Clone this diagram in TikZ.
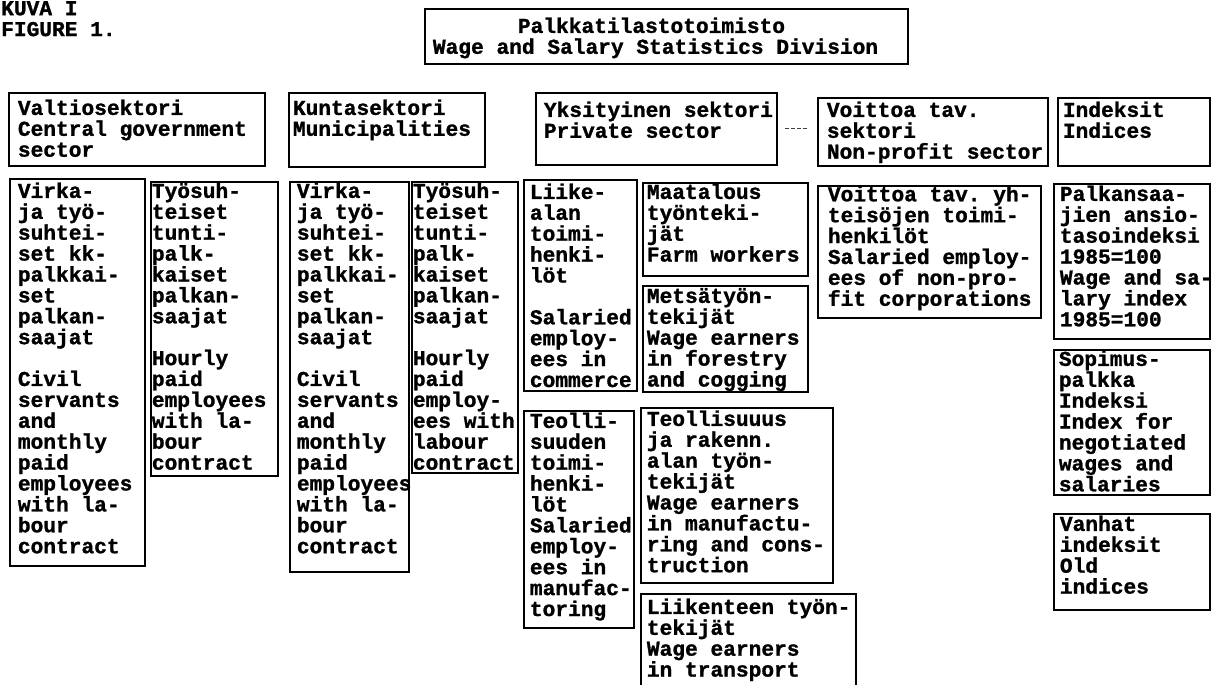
\documentclass[tikz,border=0pt]{standalone}
\usepackage{fontspec}
\setmonofont{Liberation Mono}[BoldFeatures={FakeBold=1.2}]
\frenchspacing
% #1 width, #2 height, #3 first-baseline offset, #4 left inset, #5 lines
\newcommand\cellbox[5]{\parbox[t][#2pt][t]{#1pt}{\raggedright\leftskip=#4pt\relax\hyphenpenalty=10000\relax\exhyphenpenalty=10000\relax\rule{0pt}{#3pt}#5}}
\tikzset{
  plain/.style={anchor=north west, inner sep=0pt, font=\ttfamily\bfseries\fontsize{21.2}{20.9}\selectfont},
  box/.style={plain, draw=black, line width=1.8pt},
  conn/.style={draw=black!75, line width=0.9pt, dash pattern=on 4pt off 2pt}
}
\begin{document}
\begin{tikzpicture}[x=1pt,y=-1pt]
\clip (0,0) rectangle (1211,685);
\fill[white] (0,0) rectangle (1211,685);

\node[plain] (fig) at (1,0) {\cellbox{150}{40}{15}{0}{KUVA~I\\FIGURE~1.}};

\node[box] (T) at (424,8) {\cellbox{483}{55}{24}{8}{\hspace*{85pt}Palkkatilastotoimisto\\Wage~and~Salary~Statistics~Division}};

% sector headers
\node[box] (A) at (8,92)    {\cellbox{256}{73}{22}{9}{Valtiosektori\\Central~government\\sector}};
\node[box] (B) at (288,92)  {\cellbox{196}{74}{22}{4}{Kuntasektori\\Municipalities}};
\node[box] (C) at (535,92)  {\cellbox{241}{72}{24}{8}{Yksityinen~sektori\\Private~sector}};
\node[box] (D) at (817,97)  {\cellbox{230}{68}{19}{9}{Voittoa~tav.\\sektori\\Non-profit~sector}};
\node[box] (E) at (1057,97) {\cellbox{152}{68}{19}{5}{Indeksit\\Indices}};

\draw[conn] ([xshift=7pt]C.east) -- ([xshift=-9pt]C.east -| D.west);

% central government
\node[box] (F) at (9,178) {\cellbox{135}{387}{19}{8}{Virka-\\ja~työ-\\suhtei-\\set~kk-\\palkkai-\\set\\palkan-\\saajat\\[20.9pt]Civil\\servants\\and\\monthly\\paid\\employees\\with~la-\\bour\\contract}};
\node[box] (G) at (150,181) {\cellbox{127}{294}{16}{1}{Työsuh-\\teiset\\tunti-\\palk-\\kaiset\\palkan-\\saajat\\[20.9pt]Hourly\\paid\\employees\\with~la-\\bour\\contract}};

% municipalities
\node[box] (H) at (289,181) {\cellbox{119}{390}{16}{7}{Virka-\\ja~työ-\\suhtei-\\set~kk-\\palkkai-\\set\\palkan-\\saajat\\[20.9pt]Civil\\servants\\and\\monthly\\paid\\employees\\with~la-\\bour\\contract}};
\node[box] (I) at (411,181) {\cellbox{106}{291}{16}{1}{Työsuh-\\teiset\\tunti-\\palk-\\kaiset\\palkan-\\saajat\\[20.9pt]Hourly\\paid\\employ-\\ees~with\\labour\\contract}};

% private sector
\node[box] (J) at (523,179) {\cellbox{113}{211}{19}{6}{Liike-\\alan\\toimi-\\henki-\\löt\\[20.9pt]Salaried\\employ-\\ees~in\\commerce}};
\node[box] (K) at (642,182) {\cellbox{165}{93}{16}{4}{Maatalous\\työnteki-\\jät\\Farm~workers}};
\node[box] (L) at (642,285) {\cellbox{165}{106}{17}{4}{Metsätyön-\\tekijät\\Wage~earners\\in~forestry\\and~cogging}};
\node[box] (Q) at (523,410) {\cellbox{110}{217}{17}{6}{Teolli-\\suuden\\toimi-\\henki-\\löt\\Salaried\\employ-\\ees~in\\manufac-\\toring}};
\node[box] (R) at (640,407) {\cellbox{192}{175}{18}{6}{Teollisuuus\\ja~rakenn.\\alan~työn-\\tekijät\\Wage~earners\\in~manufactu-\\ring~and~cons-\\truction}};
\node[box] (S) at (640,593) {\cellbox{215}{110}{20}{6}{Liikenteen~työn-\\tekijät\\Wage~earners\\in~transport}};

% non-profit
\node[box] (M) at (817,185) {\cellbox{223}{132}{15}{10}{Voittoa~tav.~yh-\\teisöjen~toimi-\\henkilöt\\Salaried~employ-\\ees~of~non-pro-\\fit~corporations}};

% indices
\node[box] (N) at (1053,183) {\cellbox{156}{155}{17}{6}{Palkansaa-\\jien~ansio-\\tasoindeksi\\1985=100\\Wage~and~sa-\\lary~index\\1985=100}};
\node[box] (O) at (1053,349) {\cellbox{156}{145}{16}{5}{Sopimus-\\palkka\\Indeksi\\Index~for\\negotiated\\wages~and\\salaries}};
\node[box] (P) at (1053,513) {\cellbox{156}{96}{17}{6}{Vanhat\\indeksit\\Old\\indices}};
\end{tikzpicture}
\end{document}
